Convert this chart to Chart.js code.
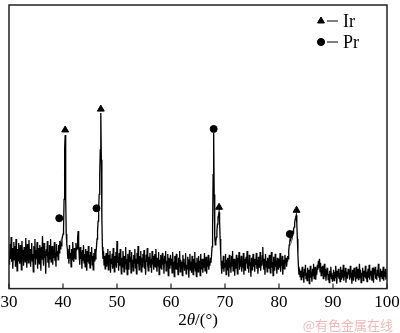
<!DOCTYPE html>
<html>
<head>
<meta charset="utf-8">
<script src="https://cdn.jsdelivr.net/npm/chart.js@4.4.1/dist/chart.umd.min.js"></script>
<style>
  html, body { margin: 0; padding: 0; background: #fff; }
  #wrap { width: 400px; height: 333px; position: relative; }
</style>
</head>
<body>
<div id="wrap"><canvas id="xrd"></canvas></div>
<script>
// XRD 图谱：2θ 从 30° 到 100°，步长 0.1°
const START_ANGLE = 30;
const STEP = 0.1;

// 每行对应 1°（d.0 ~ d.9）
const counts = [
  38, 24, 45, 30, 52, 27, 41, 20, 36, 47,   // 30
  29, 43, 22, 50, 33, 18, 40, 28, 46, 31,   // 31
  25, 44, 35, 19, 48, 30, 39, 23, 42, 34,   // 32
  27, 51, 32, 21, 45, 37, 26, 49, 29, 40,   // 33
  22, 38, 46, 28, 35, 17, 43, 31, 50, 24,   // 34
  39, 30, 47, 20, 41, 33, 25, 44, 36, 18,   // 35
  42, 29, 53, 34, 23, 46, 31, 38, 15, 40,   // 36
  33, 48, 26, 37, 21, 44, 30, 50, 27, 35,   // 37
  43, 24, 39, 31, 47, 28, 36, 22, 45, 33,   // 38
  38, 29, 44, 36, 48, 40, 45, 43, 50, 52,   // 39
  55, 60, 90, 140, 155, 92, 55, 45, 40, 30, // 40
  38, 25, 44, 31, 36, 22, 40, 29, 47, 33,   // 41
  27, 41, 35, 30, 46, 39, 40, 50, 58, 45,   // 42
  33, 24, 42, 30, 37, 20, 39, 28, 44, 26,   // 43
  35, 22, 40, 31, 18, 38, 27, 43, 25, 34,   // 44
  21, 37, 29, 42, 24, 33, 19, 36, 28, 40,   // 45
  30, 36, 42, 50, 58, 68, 80, 95, 115, 140, // 46
  177, 130, 70, 42, 30, 38, 24, 33, 20, 29, // 47
  36, 22, 31, 40, 19, 34, 27, 38, 16, 30,   // 48
  25, 35, 20, 41, 28, 17, 33, 24, 37, 21,   // 49
  48, 26, 32, 18, 36, 23, 40, 27, 15, 31,   // 50
  22, 38, 28, 17, 33, 25, 42, 20, 30, 14,   // 51
  35, 24, 19, 39, 27, 32, 16, 37, 23, 29,   // 52
  18, 34, 26, 40, 21, 30, 15, 36, 25, 43,   // 53
  28, 19, 33, 24, 38, 17, 31, 22, 35, 26,   // 54
  39, 20, 29, 14, 34, 27, 41, 23, 18, 32,   // 55
  25, 36, 21, 30, 16, 38, 24, 33, 19, 28,   // 56
  35, 22, 40, 26, 17, 31, 23, 37, 14, 29,   // 57
  21, 34, 27, 19, 36, 24, 30, 15, 33, 26,   // 58
  38, 18, 28, 23, 35, 13, 31, 25, 20, 34,   // 59
  24, 30, 16, 37, 22, 27, 12, 33, 20, 28,   // 60
  35, 19, 26, 14, 31, 23, 38, 17, 29, 21,   // 61
  27, 13, 34, 22, 30, 18, 25, 36, 15, 24,   // 62
  20, 32, 26, 11, 29, 35, 19, 27, 16, 33,   // 63
  23, 14, 30, 21, 37, 18, 26, 12, 31, 24,   // 64
  17, 33, 22, 28, 13, 35, 20, 25, 30, 16,   // 65
  29, 21, 36, 18, 24, 32, 15, 27, 22, 34,   // 66
  19, 28, 23, 31, 26, 33, 42, 62, 115, 157, // 67
  95, 52, 44, 47, 52, 58, 65, 72, 74, 77,   // 68
  68, 50, 36, 24, 15, 28, 20, 33, 17, 26,   // 69
  22, 35, 14, 29, 19, 31, 24, 12, 34, 21,   // 70
  27, 16, 33, 23, 38, 18, 25, 30, 13, 28,   // 71
  20, 34, 24, 15, 31, 26, 37, 19, 29, 22,   // 72
  33, 17, 27, 21, 36, 14, 30, 24, 18, 32,   // 73
  25, 38, 20, 29, 16, 34, 23, 27, 12, 31,   // 74
  19, 26, 35, 22, 30, 17, 28, 24, 36, 20,   // 75
  29, 15, 32, 25, 21, 37, 18, 27, 23, 33,   // 76
  42, 24, 19, 30, 14, 35, 22, 28, 17, 31,   // 77
  26, 20, 34, 23, 16, 29, 37, 21, 27, 13,   // 78
  32, 24, 18, 35, 22, 28, 15, 31, 25, 19,   // 79
  30, 21, 36, 17, 27, 23, 33, 14, 29, 24,   // 80
  20, 34, 26, 31, 22, 28, 33, 30, 38, 44,   // 81
  48, 52, 50, 55, 53, 57, 56, 60, 62, 66,   // 82
  70, 72, 74, 66, 50, 35, 22, 14, 20, 12,   // 83
  18, 9, 15, 22, 11, 17, 6, 20, 13, 24,     // 84
  10, 16, 8, 21, 12, 19, 5, 14, 23, 11,     // 85
  17, 7, 20, 13, 25, 10, 16, 22, 9, 18,     // 86
  14, 24, 19, 28, 21, 30, 17, 26, 13, 22,   // 87
  16, 23, 10, 19, 25, 12, 20, 8, 17, 14,    // 88
  21, 9, 15, 6, 18, 12, 22, 10, 16, 7,      // 89
  13, 19, 8, 17, 11, 23, 14, 5, 18, 12,     // 90
  20, 10, 16, 7, 22, 13, 9, 19, 11, 24,     // 91
  8, 15, 12, 21, 6, 17, 13, 10, 20, 14,     // 92
  18, 9, 23, 11, 16, 5, 19, 14, 8, 21,      // 93
  12, 17, 7, 22, 10, 15, 20, 9, 13, 25,     // 94
  11, 19, 6, 16, 13, 21, 8, 18, 12, 14,     // 95
  23, 10, 17, 7, 15, 20, 11, 24, 9, 16,     // 96
  13, 18, 8, 21, 12, 6, 17, 14, 22, 10,     // 97
  15, 9, 19, 13, 25, 11, 16, 7, 20, 12,     // 98
  18, 10, 14, 22, 8, 17, 12, 20, 9, 15,     // 99
  13                                        // 100
];

// 峰位标记
const irAngles = [40.4, 47.0, 68.9, 83.25];
const irHeights = [160, 181, 82, 79];
const prAngles = [39.3, 46.2, 67.9, 82.0];
const prHeights = [71, 81, 161, 55];

const xTicks = [30, 40, 50, 60, 70, 80, 90, 100];

const FONT_FAMILY = '"Liberation Serif", "Times New Roman", serif';

const pattern = counts.map((v, i) => ({ x: START_ANGLE + i * STEP, y: v }));
const irPoints = irAngles.map((a, i) => ({ x: a, y: irHeights[i] }));
const prPoints = prAngles.map((a, i) => ({ x: a, y: prHeights[i] }));

// 边框 + 向内刻度
const framePlugin = {
  id: 'frame',
  afterDraw(chart) {
    const { ctx, chartArea: a, scales } = chart;
    ctx.save();
    ctx.strokeStyle = '#222';
    ctx.lineWidth = 1.5;
    ctx.strokeRect(a.left, a.top, a.right - a.left, a.bottom - a.top);
    ctx.lineWidth = 1.2;
    xTicks.forEach(t => {
      const px = scales.x.getPixelForValue(t);
      ctx.beginPath();
      ctx.moveTo(px, a.bottom);
      ctx.lineTo(px, a.bottom - 5);
      ctx.stroke();
    });
    ctx.restore();
  }
};

// 图例、坐标轴标题、水印
const annotatePlugin = {
  id: 'annotate',
  afterDraw(chart) {
    const { ctx, chartArea: a } = chart;
    ctx.save();

    const rows = [
      { style: 'triangle', r: 4, text: 'Ir', y: 21 },
      { style: 'circle', r: 3.5, text: 'Pr', y: 42 }
    ];
    rows.forEach(row => {
      ctx.fillStyle = '#000';
      ctx.strokeStyle = '#000';
      Chart.helpers.drawPoint(ctx, { pointStyle: row.style, radius: row.r, borderWidth: 1 }, 321, row.y);
      ctx.fill();
      ctx.lineWidth = 1;
      ctx.beginPath();
      ctx.moveTo(327, row.y);
      ctx.lineTo(338, row.y);
      ctx.stroke();
      ctx.font = '18px ' + FONT_FAMILY;
      ctx.textBaseline = 'middle';
      ctx.textAlign = 'left';
      ctx.fillText(row.text, 343, row.y + 1);
    });

    // 2θ/(°)
    const cx = (a.left + a.right) / 2;
    const ty = 321;
    const parts = [
      { t: '2', f: '17px ' + FONT_FAMILY },
      { t: 'θ', f: 'italic 17px ' + FONT_FAMILY },
      { t: '/(°)', f: '17px ' + FONT_FAMILY }
    ];
    let total = 0;
    parts.forEach(p => { ctx.font = p.f; total += ctx.measureText(p.t).width; });
    let x = cx - total / 2;
    ctx.fillStyle = '#000';
    ctx.textBaseline = 'middle';
    ctx.textAlign = 'left';
    parts.forEach(p => {
      ctx.font = p.f;
      ctx.fillText(p.t, x, ty);
      x += ctx.measureText(p.t).width;
    });

    ctx.font = '13px "Noto Sans CJK SC", sans-serif';
    ctx.fillStyle = '#f2b8b8';
    ctx.textAlign = 'right';
    ctx.fillText('@有色金属在线', 393, 325);
    ctx.restore();
  }
};

new Chart(document.getElementById('xrd'), {
  type: 'scatter',
  data: {
    datasets: [
      {
        type: 'line',
        label: 'XRD',
        data: pattern,
        borderColor: '#000',
        borderWidth: 1.3,
        pointRadius: 0,
        tension: 0,
        order: 2
      },
      {
        label: 'Ir',
        data: irPoints,
        pointStyle: 'triangle',
        pointRadius: 4,
        backgroundColor: '#000',
        borderColor: '#000',
        order: 1
      },
      {
        label: 'Pr',
        data: prPoints,
        pointStyle: 'circle',
        pointRadius: 3.5,
        backgroundColor: '#000',
        borderColor: '#000',
        order: 1
      }
    ]
  },
  options: {
    responsive: true,
    maintainAspectRatio: false,
    animation: false,
    layout: { padding: { top: 1, left: 9, right: 13, bottom: 16 } },
    plugins: {
      legend: { display: false },
      tooltip: { enabled: false }
    },
    scales: {
      x: {
        type: 'linear',
        min: 30,
        max: 100,
        afterBuildTicks: scale => { scale.ticks = xTicks.map(v => ({ value: v })); },
        afterFit: scale => { scale.paddingLeft = 0; scale.paddingRight = 0; },
        grid: { display: false, drawTicks: false },
        border: { display: false },
        ticks: {
          color: '#000',
          padding: 4,
          maxRotation: 0,
          font: { family: FONT_FAMILY, size: 17 }
        }
      },
      y: {
        display: false,
        min: 0,
        max: 286
      }
    }
  },
  plugins: [framePlugin, annotatePlugin]
});
</script>
</body>
</html>
